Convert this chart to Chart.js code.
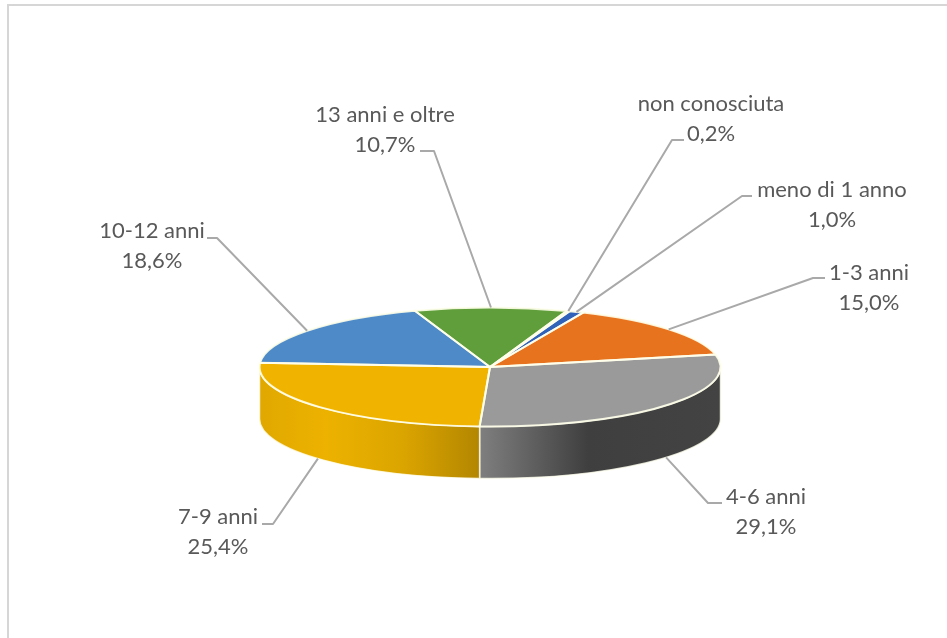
<!DOCTYPE html>
<html lang="it">
<head>
<meta charset="utf-8">
<title>Anzianità</title>
<script src="https://cdn.jsdelivr.net/npm/chart.js@4"></script>
<style>
  html, body { margin: 0; padding: 0; background: #fff; overflow: hidden; }
  #contenitore { position: relative; width: 947px; height: 638px; overflow: hidden; }
  #cornice { position: absolute; left: 7px; top: 4px; width: 1000px; height: 1000px; border: 2px solid #d6d6d6; }
  canvas { position: absolute; left: 0; top: 0; filter: blur(0.5px); }
</style>
</head>
<body>
<div id="contenitore">
  <div id="cornice"></div>
  <canvas id="torta" width="947" height="638"></canvas>
</div>
<script>
const categorie = ['non conosciuta', 'meno di 1 anno', '1-3 anni', '4-6 anni', '7-9 anni', '10-12 anni', '13 anni e oltre'];
const valori = [0.2, 1.0, 15.0, 29.1, 25.4, 18.6, 10.7];
const colori = ['#2f62b8', '#2f62b8', '#e8731f', '#9a9a9a', '#f0b400', '#4e8ac8', '#5f9e3a'];

// Sfumatura del bordo laterale (solo le fette sul davanti)
const sfumature = {
  3: [[0, '#7f7f7f'], [0.45, '#3f3f3f'], [1, '#434343']],
  4: [[0, '#e0a800'], [0.3, '#edb200'], [0.65, '#dba500'], [1, '#b38600']]
};

// Gomito della linea guida, fine della linea, centro dell'etichetta
const guide = [
  { gomito: [672, 140], fine: [684, 140], testo: [711, 104] },
  { gomito: [742, 196], fine: [752, 196], testo: [832, 190] },
  { gomito: [813, 278], fine: [825, 278], testo: [869, 273] },
  { gomito: [708, 503], fine: [722, 503], testo: [766, 497] },
  { gomito: [273, 524], fine: [262, 524], testo: [218, 517] },
  { gomito: [217, 238], fine: [207, 238], testo: [152, 231] },
  { gomito: [434, 151], fine: [420, 151], testo: [385, 115] }
];

const SCHIACCIAMENTO = 59.5 / 230.5;
const SPESSORE = 52;
const INTERLINEA = 29.5;

function applicaSchiacciamento(ctx, y) {
  ctx.translate(0, y);
  ctx.scale(1, SCHIACCIAMENTO);
  ctx.translate(0, -y);
}

function proprietaArco(arco) {
  return arco.getProps(['x', 'y', 'startAngle', 'endAngle', 'outerRadius'], true);
}

// Percorre l'ellisse da a0 ad a1 in coordinate schermo, con spostamento verticale dy
function tracciaEllisse(ctx, p, a0, a1, dy, antiorario) {
  ctx.ellipse(p.x, p.y + dy, p.outerRadius, p.outerRadius * SCHIACCIAMENTO, 0, a0, a1, antiorario);
}

function disegnaLato(ctx, chart) {
  chart.getDatasetMeta(0).data.forEach(function(arco, i) {
    const p = proprietaArco(arco);
    // angoli normalizzati: il davanti della torta è tra 0 e PI
    const giro = Math.PI * 2;
    let a0 = p.startAngle;
    let a1 = p.endAngle;
    while (a0 < -Math.PI) { a0 += giro; a1 += giro; }
    while (a0 >= Math.PI) { a0 -= giro; a1 -= giro; }
    const inizio = Math.max(a0, 0);
    const fine = Math.min(a1, Math.PI);
    if (fine <= inizio || !sfumature[i]) return;

    const xa = p.x + p.outerRadius * Math.cos(inizio);
    const xb = p.x + p.outerRadius * Math.cos(fine);
    const grad = ctx.createLinearGradient(Math.min(xa, xb), 0, Math.max(xa, xb), 0);
    sfumature[i].forEach(function(s) { grad.addColorStop(s[0], s[1]); });

    ctx.beginPath();
    tracciaEllisse(ctx, p, inizio, fine, 0, false);
    tracciaEllisse(ctx, p, fine, inizio, SPESSORE, true);
    ctx.closePath();
    ctx.fillStyle = grad;
    ctx.fill();
    ctx.strokeStyle = 'rgba(255,255,240,0.8)';
    ctx.lineWidth = 1.5;
    ctx.stroke();
  });
}

function disegnaContorni(ctx, chart) {
  ctx.strokeStyle = 'rgba(255,255,235,0.9)';
  ctx.lineWidth = 2;
  ctx.lineJoin = 'round';
  chart.getDatasetMeta(0).data.forEach(function(arco) {
    const p = proprietaArco(arco);
    ctx.beginPath();
    ctx.moveTo(p.x, p.y);
    tracciaEllisse(ctx, p, p.startAngle, p.endAngle, 0, false);
    ctx.closePath();
    ctx.stroke();
  });
}

function disegnaEtichette(ctx, chart) {
  ctx.font = '22px Lato, "Open Sans", sans-serif';
  ctx.textAlign = 'center';
  ctx.textBaseline = 'middle';
  chart.getDatasetMeta(0).data.forEach(function(arco, i) {
    const p = proprietaArco(arco);
    const medio = (p.startAngle + p.endAngle) / 2;
    const g = guide[i];
    let xi = p.x + p.outerRadius * Math.cos(medio);
    let yi = p.y + p.outerRadius * SCHIACCIAMENTO * Math.sin(medio);
    if (Math.sin(medio) > 0) yi += SPESSORE;

    ctx.beginPath();
    ctx.moveTo(xi, yi);
    ctx.lineTo(g.gomito[0], g.gomito[1]);
    ctx.lineTo(g.fine[0], g.fine[1]);
    ctx.strokeStyle = '#a9a9a9';
    ctx.lineWidth = 2;
    ctx.stroke();

    ctx.fillStyle = '#595959';
    ctx.fillText(categorie[i], g.testo[0], g.testo[1]);
    ctx.fillText(valori[i].toFixed(1).replace('.', ',') + '%', g.testo[0], g.testo[1] + INTERLINEA);
  });
}

const torta3d = {
  id: 'torta3d',
  beforeDatasetsDraw: function(chart) {
    const ctx = chart.ctx;
    disegnaLato(ctx, chart);
    const p = proprietaArco(chart.getDatasetMeta(0).data[0]);
    ctx.save();
    applicaSchiacciamento(ctx, p.y);
  },
  afterDatasetsDraw: function(chart) {
    const ctx = chart.ctx;
    ctx.restore();
    disegnaContorni(ctx, chart);
    disegnaEtichette(ctx, chart);
  }
};

new Chart(document.getElementById('torta').getContext('2d'), {
  type: 'pie',
  data: {
    labels: categorie,
    datasets: [{
      data: valori,
      backgroundColor: colori,
      borderWidth: 0,
      clip: false
    }]
  },
  options: {
    responsive: false,
    animation: false,
    rotation: 19.5,
    layout: { padding: { left: 259, right: 226, top: 136.5, bottom: 40.5 } },
    plugins: { legend: { display: false }, tooltip: { enabled: false } }
  },
  plugins: [torta3d]
});
</script>
</body>
</html>
